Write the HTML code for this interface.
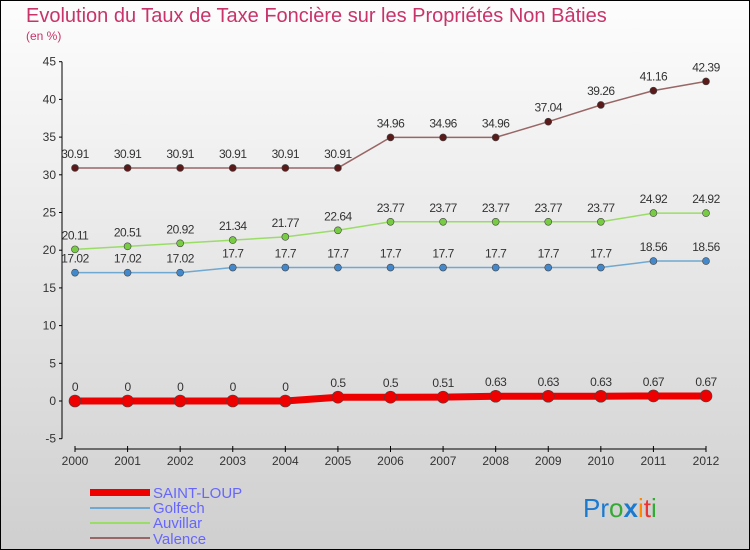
<!DOCTYPE html>
<html><head><meta charset="utf-8"><style>
body{margin:0}
#c{width:750px;height:550px;position:relative;overflow:hidden}
svg text{font-family:"Liberation Sans",sans-serif}
</style></head><body>
<div id="c">
<svg id="s" width="750" height="550" xmlns="http://www.w3.org/2000/svg">
<defs><linearGradient id="bg" x1="0" y1="0" x2="0" y2="1"><stop offset="0" stop-color="#fdfdfd"/><stop offset="1" stop-color="#cfcfcf"/></linearGradient></defs>
<rect x="0.5" y="0.5" width="749" height="549" fill="url(#bg)" stroke="#000"/>
<text x="26" y="22" font-size="20" fill="#c8336a">Evolution du Taux de Taxe Foncière sur les Propriétés Non Bâties</text>
<text x="26" y="40" font-size="12" fill="#c8336a">(en %)</text>
<g id="axes"></g><g id="series"></g>
<g>
<rect x="90" y="489" width="60" height="7" fill="#e00"/>
<text x="153" y="498" font-size="15" fill="#6666ff">SAINT-LOUP</text>
<line x1="90" y1="508" x2="150" y2="508" stroke="#6fa8d0" stroke-width="2"/>
<text x="153" y="513" font-size="15" fill="#6666ff">Golfech</text>
<line x1="90" y1="523" x2="150" y2="523" stroke="#99dd66" stroke-width="2"/>
<text x="153" y="528" font-size="15" fill="#6666ff">Auvillar</text>
<line x1="90" y1="538" x2="150" y2="538" stroke="#996666" stroke-width="2"/>
<text x="153" y="544" font-size="15" fill="#6666ff">Valence</text>
</g>
<text x="583" y="517" font-size="26"><tspan fill="#1a7ad0">Pr</tspan><tspan fill="#3a3">o</tspan><tspan fill="#1a7ad0" font-weight="bold">x</tspan><tspan fill="#f80">i</tspan><tspan fill="#e33">t</tspan><tspan fill="#3a3">i</tspan></text>
</svg></div>
<script>
const years=[2000,2001,2002,2003,2004,2005,2006,2007,2008,2009,2010,2011,2012];
const yTicks=[-5,0,5,10,15,20,25,30,35,40,45];
const saintLoup=[0,0,0,0,0,0.5,0.5,0.51,0.63,0.63,0.63,0.67,0.67];
const golfech=[17.02,17.02,17.02,17.7,17.7,17.7,17.7,17.7,17.7,17.7,17.7,18.56,18.56];
const auvillar=[20.11,20.51,20.92,21.34,21.77,22.64,23.77,23.77,23.77,23.77,23.77,24.92,24.92];
const valence=[30.91,30.91,30.91,30.91,30.91,30.91,34.96,34.96,34.96,37.04,39.26,41.16,42.39];
const NS="http://www.w3.org/2000/svg";
const X=i=>75+i*(706-75)/(years.length-1);
const Y=v=>401-v*7.54;
function mk(t,a,p){const e=document.createElementNS(NS,t);for(const k in a)e.setAttribute(k,a[k]);p.appendChild(e);return e;}
const ax=document.getElementById('axes');
let l=mk('line',{x1:62,y1:Y(45),x2:62,y2:Y(-5),stroke:'#000'},ax);


yTicks.forEach(v=>{mk('line',{x1:59,y1:Y(v),x2:62,y2:Y(v),stroke:'#000'},ax);
const t=mk('text',{x:56,y:Y(v)+4,'font-size':12,'text-anchor':'end',fill:'#333'},ax);t.textContent=v;

});
l=mk('line',{x1:75,y1:449,x2:706,y2:449,stroke:'#000'},ax);


years.forEach((y,i)=>{mk('line',{x1:X(i),y1:446,x2:X(i),y2:452,stroke:'#000'},ax);
const t=mk('text',{x:X(i),y:465,'font-size':12,'text-anchor':'middle',fill:'#333'},ax);t.textContent=y;

});
const sg=document.getElementById('series');
function series(name,vals,color,dot,w,r){
const g=mk('g',{},sg);


const p=mk('polyline',{points:vals.map((v,i)=>X(i)+','+Y(v)).join(' '),fill:'none',stroke:color,'stroke-width':w},g);


vals.forEach((v,i)=>{const c=mk('circle',{cx:X(i),cy:Y(v),r:r,fill:dot,stroke:'#444','stroke-width':0.6},g);


const t=mk('text',{x:X(i),y:Y(v)-10,'font-size':12,'text-anchor':'middle',fill:'#333','letter-spacing':'-0.5'},g);t.textContent=v;

});}
series('valence',valence,'#996666','#5a1a1a',1.5,3.5);
series('auvillar',auvillar,'#99dd66','#77cc44',1.5,3.5);
series('golfech',golfech,'#6fa8d0','#4488cc',1.5,3.5);
series('saint-loup',saintLoup,'#ee0000','#ee0000',7,6);
</script>
</body></html>
